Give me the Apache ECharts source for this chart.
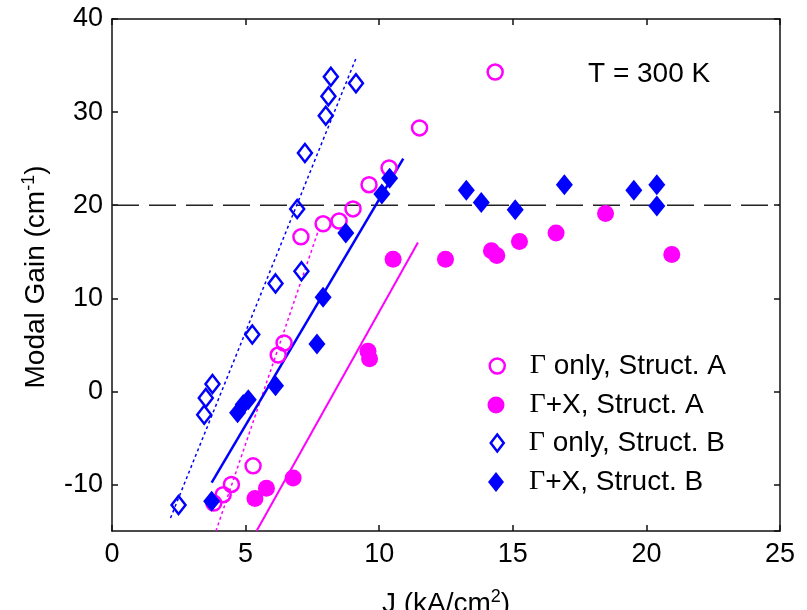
<!DOCTYPE html>
<html>
<head>
<meta charset="utf-8">
<script src="https://cdn.jsdelivr.net/npm/echarts@6/dist/echarts.min.js"></script>
<style>
  html, body { margin: 0; padding: 0; background: #fff; }
  #chart { width: 807px; height: 610px; }
</style>
</head>
<body>
<div id="chart"></div>
<script>
// Modal gain vs. current density, T = 300 K
const xTicks = [0, 5, 10, 15, 20, 25];
const yTicks = [-10, 0, 10, 20, 30, 40];
const thresholdGain = 20;

// [J (kA/cm^2), gain (cm^-1)]
const gammaOnlyA = [
  [3.81, -12.0], [4.16, -11.1], [4.47, -10.0], [5.28, -8.0], [6.22, 3.9], [6.44, 5.2],
  [7.07, 16.6], [7.90, 18.0], [8.50, 18.3], [9.02, 19.6], [9.62, 22.2], [10.37, 24.0],
  [11.51, 28.3], [14.34, 34.3]
];
const gammaXA = [
  [5.35, -11.5], [5.78, -10.4], [6.78, -9.3], [9.58, 4.3], [9.64, 3.5], [10.52, 14.2],
  [12.48, 14.2], [14.2, 15.1], [14.4, 14.6], [15.25, 16.1], [16.62, 17.0], [18.47, 19.1],
  [20.95, 14.7]
];
const gammaOnlyB = [
  [2.49, -12.2], [3.45, -2.5], [3.51, -0.7], [3.76, 0.8], [5.25, 6.1], [6.12, 11.6],
  [6.93, 19.6], [7.09, 12.9], [7.22, 25.6], [8.00, 29.6], [8.10, 31.7], [8.19, 33.8],
  [9.13, 33.1]
];
const gammaXB = [
  [3.73, -11.8], [4.70, -2.3], [4.91, -1.4], [5.10, -0.9], [6.12, 0.6], [7.67, 5.1],
  [7.90, 10.1], [8.75, 17.0], [10.10, 21.2], [10.39, 22.9], [13.26, 21.6], [13.82, 20.3],
  [15.09, 19.5], [16.93, 22.2], [19.53, 21.6], [20.39, 22.2], [20.39, 19.9]
];

// linear fits (end points)
const fitGammaOnlyA = [[3.89, -15.0], [7.75, 17.5]];
const fitGammaXA = [[5.41, -15.0], [11.45, 16.0]];
const fitGammaOnlyB = [[2.19, -13.6], [9.12, 35.7]];
const fitGammaXB = [[3.73, -9.8], [10.90, 25.0]];

const seriesNames = ['Γ only, Struct. A', 'Γ+X, Struct. A', 'Γ only, Struct. B', 'Γ+X, Struct. B'];

const MAGENTA = '#ff00ff';
const BLUE = '#0000ff';
const SANS = '"Liberation Sans", Arial, sans-serif';
const SERIF = '"Liberation Serif", "Times New Roman", serif';

const legendRich = {
  g: { fontFamily: SERIF, fontSize: 28, color: '#000', lineHeight: 30, padding: [0, 0, 0, 20] },
  t: { fontFamily: SANS, fontSize: 28, color: '#000', lineHeight: 30 }
};
function legendLabel(name) {
  return '{g|Γ}{t|' + name.slice(1) + '}';
}

const legendStyles = [
  { icon: 'circle', w: 15, h: 15, itemStyle: { color: '#fff', borderColor: MAGENTA, borderWidth: 2.5 } },
  { icon: 'circle', w: 17, h: 17, itemStyle: { color: MAGENTA, borderWidth: 0 } },
  { icon: 'diamond', w: 13, h: 17, itemStyle: { color: '#fff', borderColor: BLUE, borderWidth: 2.5 } },
  { icon: 'diamond', w: 16, h: 20, itemStyle: { color: BLUE, borderWidth: 0 } }
];
const legendCenters = [362, 401, 439, 478];

const legends = seriesNames.map((name, i) => {
  const s = legendStyles[i];
  return {
    data: [{ name: name, icon: s.icon, itemStyle: s.itemStyle }],
    left: 491 - s.w / 2,
    top: legendCenters[i] - 15,
    itemWidth: s.w,
    itemHeight: s.h,
    symbolKeepAspect: false,
    selectedMode: false,
    formatter: legendLabel,
    textStyle: { rich: legendRich }
  };
});

function fitLine(data, color, width, dashed) {
  return {
    type: 'line', data: data, symbol: 'none', silent: true, z: 1,
    lineStyle: { color: color, width: width, type: dashed ? [3, 3] : 'solid' },
    legendHoverLink: false
  };
}

const chart = echarts.init(document.getElementById('chart'), null, { renderer: 'canvas' });

function axisCommon() {
  return {
    axisLine: { show: true, onZero: false, lineStyle: { color: '#111', width: 1.5 } },
    axisTick: { show: true, inside: true, length: 6, lineStyle: { color: '#111', width: 1.5 } },
    splitLine: { show: false }
  };
}

chart.setOption({
  animation: false,
  backgroundColor: '#fff',
  grid: { left: 112, right: 27, top: 19, bottom: 79, containLabel: false },
  legend: legends,
  xAxis: [
    Object.assign({
      type: 'value', min: xTicks[0], max: xTicks[xTicks.length - 1], interval: 5, position: 'bottom',
      axisLabel: { color: '#000', fontFamily: SANS, fontSize: 27, margin: 10 }
    }, axisCommon()),
    Object.assign({
      type: 'value', min: xTicks[0], max: xTicks[xTicks.length - 1], interval: 5, position: 'top',
      axisLabel: { show: false }
    }, axisCommon())
  ],
  yAxis: [
    Object.assign({
      type: 'value', min: -15, max: yTicks[yTicks.length - 1], splitNumber: 5, position: 'left',
      axisLabel: { color: '#000', fontFamily: SANS, fontSize: 27, margin: 9, showMinLabel: false,
        formatter: v => (yTicks.indexOf(v) >= 0 ? String(v) : '') }
    }, axisCommon()),
    Object.assign({
      type: 'value', min: -15, max: yTicks[yTicks.length - 1], splitNumber: 5, position: 'right',
      axisLabel: { show: false }
    }, axisCommon())
  ],
  series: [
    {
      type: 'line', data: [[xTicks[0], thresholdGain], [xTicks[xTicks.length - 1], thresholdGain]],
      symbol: 'none', silent: true, z: 1,
      lineStyle: { color: '#222', width: 1.5, type: [27, 10] }
    },
    fitLine(fitGammaOnlyB, BLUE, 1.5, true),
    fitLine(fitGammaOnlyA, MAGENTA, 1.5, true),
    fitLine(fitGammaXB, BLUE, 2.5, false),
    fitLine(fitGammaXA, MAGENTA, 2, false),
    {
      name: seriesNames[0], type: 'scatter', data: gammaOnlyA, symbol: 'circle', symbolSize: 15, z: 3,
      itemStyle: { color: 'rgba(255,255,255,0)', borderColor: MAGENTA, borderWidth: 2.5, opacity: 1 }
    },
    {
      name: seriesNames[1], type: 'scatter', data: gammaXA, symbol: 'circle', symbolSize: 17, z: 3,
      itemStyle: { color: MAGENTA, opacity: 1 }
    },
    {
      name: seriesNames[2], type: 'scatter', data: gammaOnlyB, symbol: 'diamond', symbolSize: [14, 18], z: 3,
      itemStyle: { color: 'rgba(255,255,255,0)', borderColor: BLUE, borderWidth: 2.5, opacity: 1 }
    },
    {
      name: seriesNames[3], type: 'scatter', data: gammaXB, symbol: 'diamond', symbolSize: [17, 21], z: 3,
      itemStyle: { color: BLUE, opacity: 1 }
    }
  ],
  graphic: [
    {
      type: 'text', x: 588, y: 74,
      style: { text: 'T = 300 K', font: '28px ' + SANS, fill: '#000', align: 'left', verticalAlign: 'middle' }
    },
    {
      type: 'text', x: 36, y: 277, rotation: Math.PI / 2,
      style: {
        text: '{t|Modal Gain (cm}{s|-1}{t|)}', align: 'center', verticalAlign: 'middle',
        rich: {
          t: { fontFamily: SANS, fontSize: 28, fill: '#000', lineHeight: 32 },
          s: { fontFamily: SANS, fontSize: 18, fill: '#000', lineHeight: 32, verticalAlign: 'top' }
        }
      }
    },
    {
      type: 'text', x: 446, y: 604,
      style: {
        text: '{t|J (kA/cm}{s|2}{t|)}', align: 'center', verticalAlign: 'middle',
        rich: {
          t: { fontFamily: SANS, fontSize: 28, fill: '#000', lineHeight: 32 },
          s: { fontFamily: SANS, fontSize: 18, fill: '#000', lineHeight: 32, verticalAlign: 'top' }
        }
      }
    }
  ]
});
</script>
</body>
</html>
